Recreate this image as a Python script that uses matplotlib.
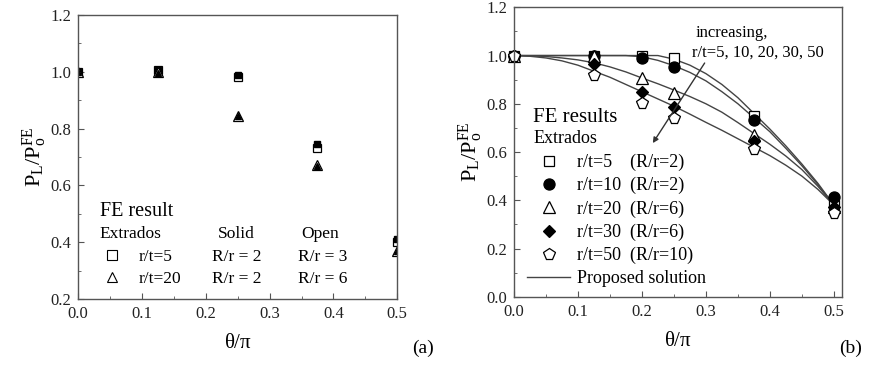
import matplotlib
matplotlib.use('Agg')
import matplotlib.pyplot as plt
from matplotlib.ticker import MultipleLocator
from matplotlib.lines import Line2D

plt.rcParams['font.family'] = ['Liberation Serif', 'DejaVu Serif']
plt.rcParams['mathtext.fontset'] = 'custom'
plt.rcParams['mathtext.rm'] = 'Liberation Serif'
plt.rcParams['mathtext.it'] = 'Liberation Serif:italic'

# panel (a) FE results
theta_a = [0.0, 0.125, 0.25, 0.375, 0.5]
sq_solid = [1.0, 1.005, 0.98, 0.73, 0.40]
sq_open = [1.0, 1.005, 0.99, 0.745, 0.41]
tri_solid = [1.0, 1.0, 0.845, 0.67, 0.37]
tri_open = [1.0, 0.995, 0.845, 0.668, 0.37]

# panel (b) FE results
theta_b = [0.0, 0.125, 0.2, 0.25, 0.375, 0.5]
rt5 = [1.0, 1.0, 1.0, 0.99, 0.748, 0.38]
rt10 = [1.0, 1.0, 0.988, 0.952, 0.732, 0.412]
rt20 = [1.0, 0.998, 0.905, 0.845, 0.67, 0.37]
rt30 = [1.0, 0.966, 0.85, 0.786, 0.645, 0.37]
rt50 = [1.0, 0.92, 0.805, 0.742, 0.613, 0.347]

# proposed solution curves
theta_c = [0.0, 0.025, 0.05, 0.075, 0.1, 0.125, 0.15, 0.175, 0.2, 0.225, 0.25,
           0.275, 0.3, 0.325, 0.35, 0.375, 0.4, 0.425, 0.45, 0.475, 0.5]
curve1 = [1.0, 1.0, 1.0, 1.0, 1.0, 1.0, 1.0, 1.0, 1.0, 1.0, 0.985,
          0.96, 0.925, 0.88, 0.825, 0.76, 0.695, 0.625, 0.55, 0.47, 0.38]
curve2 = [1.0, 1.0, 1.0, 1.0, 1.0, 1.0, 1.0, 1.0, 0.995, 0.98, 0.958,
          0.93, 0.895, 0.85, 0.8, 0.742, 0.684, 0.615, 0.543, 0.465, 0.38]
curve3 = [1.0, 0.999, 0.996, 0.99, 0.982, 0.97, 0.953, 0.932, 0.907, 0.883, 0.857,
          0.83, 0.8, 0.765, 0.722, 0.677, 0.632, 0.583, 0.527, 0.458, 0.38]
curve4 = [1.0, 0.997, 0.99, 0.978, 0.96, 0.935, 0.91, 0.88, 0.85, 0.82, 0.79,
          0.757, 0.723, 0.69, 0.655, 0.62, 0.585, 0.545, 0.5, 0.445, 0.38]

fig = plt.figure(figsize=(8.77, 3.65), dpi=100)
ax1 = fig.add_axes([0.089, 0.181, 0.364, 0.778])
ax2 = fig.add_axes([0.586, 0.187, 0.374, 0.793])

spine_col = '#555555'
for ax in (ax1, ax2):
    for s in ax.spines.values():
        s.set_color(spine_col)
        s.set_linewidth(1.0)
    ax.tick_params(which='both', direction='in', top=False, right=False,
                   colors=spine_col, labelcolor='#222222', labelsize=12)
    ax.tick_params(which='major', length=4, pad=5)
    ax.tick_params(which='minor', length=2.5)
    ax.xaxis.set_major_locator(MultipleLocator(0.1))
    ax.xaxis.set_minor_locator(MultipleLocator(0.05))
    ax.yaxis.set_major_locator(MultipleLocator(0.2))
    ax.yaxis.set_minor_locator(MultipleLocator(0.1))
    ax.set_xlabel(r'$\mathregular{\theta/\pi}$', fontsize=15, labelpad=9)
    ax.set_ylabel(r'$\mathregular{P_L/P_o^{FE}}$', fontsize=16, labelpad=1)

# ---- panel (a)
ax1.set_xlim(0, 0.5)
ax1.set_ylim(0.2, 1.2)
ax1.plot(theta_a, sq_solid, 's', ms=6, mfc='white', mec='black', mew=0.9, ls='none')
ax1.plot(theta_a, sq_open, 's', ms=4, mfc='black', mec='black', ls='none')
ax1.plot(theta_a, tri_solid, '^', ms=7, mfc='white', mec='black', mew=0.9, ls='none')
ax1.plot(theta_a, tri_open, '^', ms=5, mfc='black', mec='black', ls='none')

ax1.text(0.034, 0.507, 'FE result', fontsize=14.5, va='center')
ax1.text(0.034, 0.429, 'Extrados', fontsize=12.5, va='center')
ax1.text(0.219, 0.429, 'Solid', fontsize=12.5, va='center')
ax1.text(0.35, 0.429, 'Open', fontsize=12.5, va='center')
ax1.legend([Line2D([], [], marker='s', ms=6.5, mfc='white', mec='black', mew=0.8, ls='none'),
            Line2D([], [], marker='^', ms=7.5, mfc='white', mec='black', mew=0.8, ls='none')],
           ['r/t=5', 'r/t=20'], loc='lower left', bbox_to_anchor=(0.051, 0.018),
           frameon=False, fontsize=12.5, handlelength=1.2, handletextpad=0.95,
           labelspacing=0.34, borderaxespad=0)
ax1.text(0.21, 0.349, 'R/r = 2', fontsize=12.5, va='center')
ax1.text(0.21, 0.270, 'R/r = 2', fontsize=12.5, va='center')
ax1.text(0.344, 0.349, 'R/r = 3', fontsize=12.5, va='center')
ax1.text(0.344, 0.270, 'R/r = 6', fontsize=12.5, va='center')
fig.text(0.470, 0.047, '(a)', fontsize=14, va='center')

# ---- panel (b)
ax2.set_xlim(0, 0.5125)
ax2.set_ylim(0, 1.2)
line_col = '#444444'
for c in (curve1, curve2, curve3, curve4):
    ax2.plot(theta_c, c, '-', color=line_col, lw=1.0)
mk = dict(ls='none', mec='black', mew=0.9, clip_on=False)
h5, = ax2.plot(theta_b, rt5, 's', ms=7, mfc='white', **mk)
h10, = ax2.plot(theta_b, rt10, 'o', ms=8, mfc='black', **mk)
h20, = ax2.plot(theta_b, rt20, '^', ms=8, mfc='white', **mk)
h30, = ax2.plot(theta_b, rt30, 'D', ms=6.5, mfc='black', **mk)
h50, = ax2.plot(theta_b, rt50, 'p', ms=8.5, mfc='white', **mk)
hl = Line2D([], [], color=line_col, lw=1.0)

ax2.text(0.03, 0.745, 'FE results', fontsize=15, va='center')
ax2.text(0.03, 0.657, 'Extrados', fontsize=13, va='center')
ax2.legend([h5, h10, h20, h30, h50, hl],
           ['r/t=5    (R/r=2)', 'r/t=10  (R/r=2)', 'r/t=20  (R/r=6)',
            'r/t=30  (R/r=6)', 'r/t=50  (R/r=10)', 'Proposed solution'],
           loc='lower left', bbox_to_anchor=(0.018, 0.008), frameon=False,
           fontsize=13, handlelength=2.4, handletextpad=0.35,
           labelspacing=0.33, borderaxespad=0, numpoints=1)

ax2.annotate('', xy=(0.217, 0.637), xytext=(0.298, 0.969),
             arrowprops=dict(arrowstyle='-|>', color='#333333', lw=1.0,
                             mutation_scale=8, shrinkA=0, shrinkB=0))
ax2.text(0.284, 1.093, 'increasing,', fontsize=12, va='center')
ax2.text(0.278, 1.01, 'r/t=5, 10, 20, 30, 50', fontsize=12, va='center')
fig.text(0.957, 0.047, '(b)', fontsize=14, va='center')

fig.savefig('out.png', dpi=100)
